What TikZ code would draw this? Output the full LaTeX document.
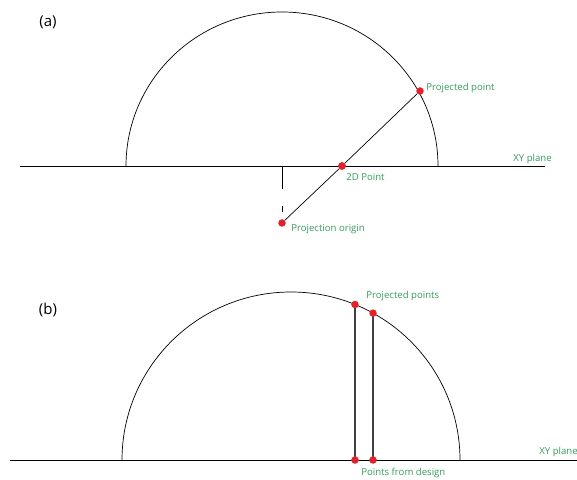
\documentclass[tikz,border=0pt]{standalone}
\usepackage{fontspec}
\setmainfont{Open Sans}
\usetikzlibrary{calc}
\definecolor{labelgreen}{RGB}{55,155,92}
\definecolor{dotred}{RGB}{228,32,42}
\tikzset{
    reddot/.style={circle, fill=dotred, inner sep=0pt, minimum size=7.5pt},
    lbl/.style={anchor=west, text=labelgreen, inner sep=0pt, font=\fontsize{9.6}{11}\selectfont},
    panel/.style={inner sep=0pt, font=\fontsize{15}{18}\selectfont},
}
\begin{document}
\begin{tikzpicture}[x=1pt, y=1pt, line width=0.7pt]
    \useasboundingbox (0, 0) rectangle (577, 479);

    % (a) 投影
    \node[panel] (tagA) at (48, 457) {(a)};
    \coordinate (cA) at (282, 313);
    \coordinate (planeAL) at (20, 313);
    \coordinate (planeAR) at (545, 313);
    \draw (planeAL) -- (planeAR);
    \draw (126, 313) arc[start angle=180, end angle=0, x radius=156, y radius=154];
    \node[reddot] (origin) at (282, 256) {};
    \node[reddot] (flat) at (342, 313) {};
    \node[reddot] (proj) at (420, 388) {};
    \draw[dash pattern=on 23pt off 17pt on 6pt off 30pt] (cA) -- (origin);
    \draw (origin) -- (flat) -- (proj);
    \node[reddot] at (flat) {};
    \node[lbl] (projLbl) at (426, 391) {Projected point};
    \node[lbl] (flatLbl) at (346, 302) {2D Point};
    \node[lbl] (originLbl) at (291, 250) {Projection origin};
    \node[lbl] (planeLblA) at (513, 320) {XY plane};

    % (b) 设计点
    \node[panel] (tagB) at (48, 169) {(b)};
    \coordinate (cB) at (291, 19);
    \coordinate (planeBL) at (10, 19);
    \coordinate (planeBR) at (590, 19);
    \draw (planeBL) -- (planeBR);
    \draw (122, 19) arc[start angle=180, end angle=0, x radius=169, y radius=168];
    \coordinate (projB1) at ($(cB) + (67.75:169 and 168)$);
    \coordinate (projB2) at ($(cB) + (60.97:169 and 168)$);
    \coordinate (baseB1) at (projB1 |- cB);
    \coordinate (baseB2) at (projB2 |- cB);
    \draw[line width=1.1pt, black!75] (projB1) -- (baseB1);
    \draw[line width=1.1pt, black!75] (projB2) -- (baseB2);
    \foreach \p in {projB1, projB2, baseB1, baseB2}
        \node[reddot] at (\p) {};
    \node[lbl] (projLblB) at (366, 183) {Projected points};
    \node[lbl] (designLbl) at (361, 6) {Points from design};
    \node[lbl] (planeLblB) at (539, 27) {XY plane};
\end{tikzpicture}
\end{document}
